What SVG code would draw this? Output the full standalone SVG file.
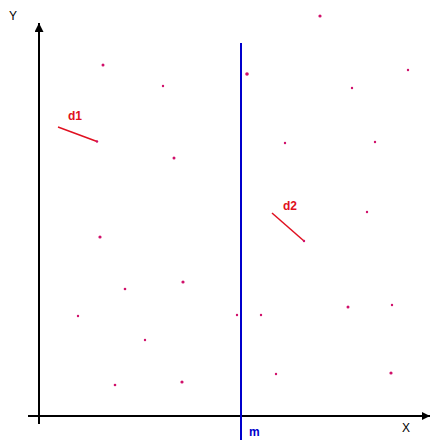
<svg xmlns="http://www.w3.org/2000/svg" width="430" height="440" viewBox="0 0 430 440">
<style>
.axis{stroke:#000;stroke-width:2;fill:none}
.pt{fill:#d0106a}
.seg{stroke:#e01020;stroke-width:1.5;fill:none}
.lbl{font-family:"Liberation Sans",Arial,sans-serif;font-size:12px}
.red{fill:#e01020;font-weight:bold}
</style>
<defs>
<marker id="ah" viewBox="0 0 10 10" refX="10" refY="5" markerWidth="10" markerHeight="8" markerUnits="userSpaceOnUse" orient="auto">
<path d="M0,0 L10,5 L0,10 Z" fill="#000"/>
</marker>
<marker id="ahY" viewBox="0 0 10 10" refX="10" refY="5" markerWidth="11" markerHeight="9" markerUnits="userSpaceOnUse" orient="auto">
<path d="M0,0 L10,5 L0,10 Z" fill="#000"/>
</marker>
</defs>
<rect width="430" height="440" fill="#fff"/>
<g id="axes">
<line class="axis" x1="39" y1="424" x2="39" y2="23" marker-end="url(#ahY)"/>
<line class="axis" x1="28" y1="416" x2="430" y2="416" marker-end="url(#ah)"/>
<text class="lbl" x="9" y="20">Y</text>
<text class="lbl" x="402" y="432">X</text>
</g>
<g id="median">
<line x1="241" y1="43" x2="241" y2="440" stroke="#0000cc" stroke-width="2"/>
<text class="lbl" x="249" y="436" fill="#0000cc" font-weight="bold" font-size="11">m</text>
</g>
<g id="d1">
<line class="seg" x1="58" y1="127" x2="97" y2="141.5"/>
<text class="lbl red" x="68" y="120">d1</text>
</g>
<g id="d2">
<line class="seg" x1="272" y1="213" x2="304" y2="241"/>
<text class="lbl red" x="283" y="210">d2</text>
</g>
<g id="points">
<circle class="pt" cx="97" cy="141.5" r="1.2"/>
<circle class="pt" cx="304" cy="241" r="1.2"/>
<circle class="pt" cx="103" cy="65" r="1.5"/>
<circle class="pt" cx="163" cy="86" r="1.2"/>
<circle class="pt" cx="174" cy="158" r="1.5"/>
<circle class="pt" cx="320" cy="16" r="1.6"/>
<circle class="pt" cx="247" cy="74" r="1.8"/>
<circle class="pt" cx="408" cy="70" r="1.2"/>
<circle class="pt" cx="352" cy="88" r="1.2"/>
<circle class="pt" cx="285" cy="143" r="1.2"/>
<circle class="pt" cx="375" cy="142" r="1.2"/>
<circle class="pt" cx="367" cy="212" r="1.2"/>
<circle class="pt" cx="100" cy="237" r="1.6"/>
<circle class="pt" cx="183" cy="282" r="1.6"/>
<circle class="pt" cx="125" cy="289" r="1.3"/>
<circle class="pt" cx="78" cy="316" r="1.2"/>
<circle class="pt" cx="145" cy="340" r="1.2"/>
<circle class="pt" cx="115" cy="385" r="1.3"/>
<circle class="pt" cx="182" cy="382" r="1.6"/>
<circle class="pt" cx="237" cy="315" r="1.2"/>
<circle class="pt" cx="261" cy="315" r="1.2"/>
<circle class="pt" cx="348" cy="307" r="1.5"/>
<circle class="pt" cx="392" cy="305" r="1.2"/>
<circle class="pt" cx="276" cy="374" r="1.2"/>
<circle class="pt" cx="391" cy="373" r="1.6"/>
</g>
</svg>
